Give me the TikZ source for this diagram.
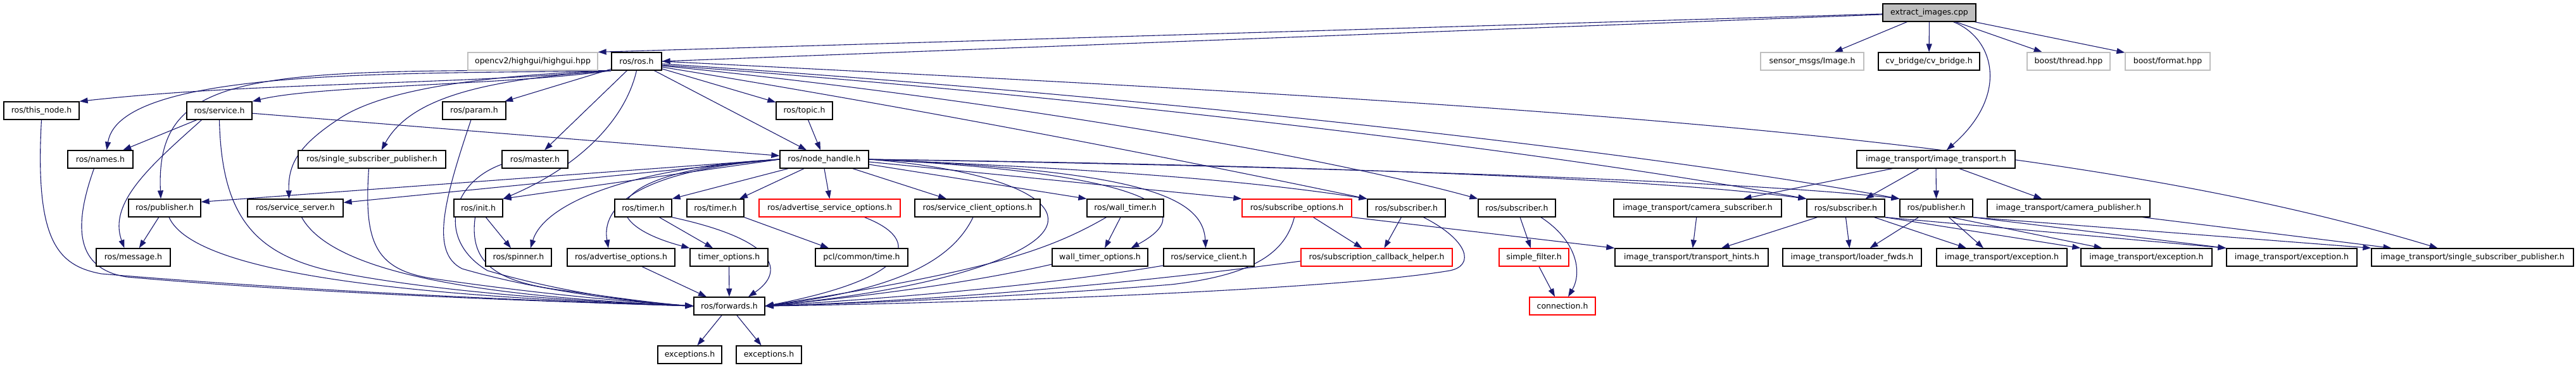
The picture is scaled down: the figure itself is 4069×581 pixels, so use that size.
\documentclass[tikz,border=0pt]{standalone}
\usepackage{fontspec}
\setmainfont{DejaVu Sans}
\usetikzlibrary{arrows.meta}
\definecolor{edgec}{HTML}{191970}
\definecolor{lgrey}{HTML}{BFBFBF}
\pgfdeclarelayer{bg}
\pgfsetlayers{bg,main}
\begin{document}
\begin{tikzpicture}[x=1pt,y=-1pt,
 box/.style={draw=black,line width=1.3pt,fill=white,minimum height=28pt,inner sep=0pt,font=\fontsize{12.5}{15}\selectfont,text=black},
 lightbox/.style={box,draw=lgrey},
 redbox/.style={box,draw=red},
 rootbox/.style={box,fill=lgrey},
 e/.style={draw=edgec,line width=1.1pt,-{Triangle[length=13pt,width=9pt]}},
]
\useasboundingbox (0,0) rectangle (4069,581);
% row 0
\node[rootbox,minimum width=147pt] (root) at (3047.5,20) {extract\_images.cpp};
% row 1
\node[lightbox,minimum width=205pt] (opencv) at (841.5,97) {opencv2/highgui/highgui.hpp};
\node[box,minimum width=79pt] (ros) at (1005.5,97) {ros/ros.h};
\node[lightbox,minimum width=163pt] (sensor) at (2862.5,97) {sensor\_msgs/Image.h};
\node[box,minimum width=160pt] (cvb) at (3047,97) {cv\_bridge/cv\_bridge.h};
\node[lightbox,minimum width=131pt] (bthread) at (3267.5,97) {boost/thread.hpp};
\node[lightbox,minimum width=134pt] (bformat) at (3424,97) {boost/format.hpp};
% row 2
\node[box,minimum width=119pt] (thisnode) at (65.5,175) {ros/this\_node.h};
\node[box,minimum width=103pt] (service) at (346.5,175) {ros/service.h};
\node[box,minimum width=100pt] (param) at (749,175) {ros/param.h};
\node[box,minimum width=89pt] (topic) at (1270.5,175) {ros/topic.h};
% row 3
\node[box,minimum width=103pt] (names) at (158.5,252) {ros/names.h};
\node[box,minimum width=233pt] (sspubR) at (587.5,252) {ros/single\_subscriber\_publisher.h};
\node[box,minimum width=104pt] (master) at (845,252) {ros/master.h};
\node[box,minimum width=140pt] (nh) at (1302,252) {ros/node\_handle.h};
\node[box,minimum width=250pt] (itr) at (3058,252) {image\_transport/image\_transport.h};
% row 4
\node[box,minimum width=114pt] (pubL) at (260,329) {ros/publisher.h};
\node[box,minimum width=151pt] (ssrv) at (466.5,329) {ros/service\_server.h};
\node[box,minimum width=77pt] (init) at (755.5,329) {ros/init.h};
\node[box,minimum width=90pt] (timerA) at (1016,329) {ros/timer.h};
\node[box,minimum width=90pt] (timerB) at (1130,329) {ros/timer.h};
\node[redbox,minimum width=223pt] (aso) at (1310.5,329) {ros/advertise\_service\_options.h};
\node[box,minimum width=198pt] (sco) at (1544,329) {ros/service\_client\_options.h};
\node[box,minimum width=121pt] (wt) at (1777.5,329) {ros/wall\_timer.h};
\node[redbox,minimum width=173pt] (subo) at (2048.5,329) {ros/subscribe\_options.h};
\node[box,minimum width=123pt] (subA) at (2221.5,329) {ros/subscriber.h};
\node[box,minimum width=122pt] (subB) at (2396,329) {ros/subscriber.h};
\node[box,minimum width=265pt] (camsub) at (2681.5,329) {image\_transport/camera\_subscriber.h};
\node[box,minimum width=123pt] (subC) at (2915.5,329) {ros/subscriber.h};
\node[box,minimum width=115pt] (pubR) at (3058.5,329) {ros/publisher.h};
\node[box,minimum width=257pt] (campub) at (3267.5,329) {image\_transport/camera\_publisher.h};
% row 5
\node[box,minimum width=117pt] (msg) at (210.5,407) {ros/message.h};
\node[box,minimum width=104pt] (spin) at (819,407) {ros/spinner.h};
\node[box,minimum width=170pt] (advo) at (981,407) {ros/advertise\_options.h};
\node[box,minimum width=123pt] (tmo) at (1151.5,407) {timer\_options.h};
\node[box,minimum width=146pt] (pcl) at (1361,407) {pcl/common/time.h};
\node[box,minimum width=151pt] (wto) at (1737.5,407) {wall\_timer\_options.h};
\node[box,minimum width=143pt] (sc) at (1909.5,407) {ros/service\_client.h};
\node[redbox,minimum width=239pt] (sch) at (2174.5,407) {ros/subscription\_callback\_helper.h};
\node[redbox,minimum width=110pt] (sf) at (2423,407) {simple\_filter.h};
\node[box,minimum width=242pt] (th) at (2672,407) {image\_transport/transport\_hints.h};
\node[box,minimum width=219pt] (lf) at (2925.5,407) {image\_transport/loader\_fwds.h};
\node[box,minimum width=206pt] (ex1) at (3162,407) {image\_transport/exception.h};
\node[box,minimum width=207pt] (ex2) at (3390.5,407) {image\_transport/exception.h};
\node[box,minimum width=206pt] (ex3) at (3620,407) {image\_transport/exception.h};
\node[box,minimum width=319pt] (sspub) at (3905.5,407) {image\_transport/single\_subscriber\_publisher.h};
% row 6
\node[box,minimum width=112pt] (fwd) at (1152,484) {ros/forwards.h};
\node[redbox,minimum width=104pt] (conn) at (2468,484) {connection.h};
% row 7
\node[box,minimum width=101pt] (exa) at (1089.5,561) {exceptions.h};
\node[box,minimum width=103pt] (exb) at (1214.5,561) {exceptions.h};

\begin{pgfonlayer}{bg}
% root
\draw[e] ([yshift=-2pt]root.west) -- (opencv.north east);
\draw[e] ([yshift=-3pt]root.west) -- (ros.east);
\draw[e] (root) -- (sensor);
\draw[e] (root) -- (cvb);
\draw[e] (root) -- (bthread);
\draw[e] (root) -- (bformat);
\draw[e] ([xshift=38pt]root.south) .. controls (3150,60) and (3175,150) .. (itr);
% ros
\draw[e] (ros.south west) .. controls (700,135) and (400,130) .. (thisnode.north east);
\draw[e] (ros.south west) .. controls (800,135) and (500,135) .. (service.north east);
\draw[e] (ros.south west) .. controls (650,118) and (190,105) .. ([xshift=10pt]names.north);
\draw[e] (ros.south west) .. controls (400,110) and (245,110) .. ([xshift=-6pt]pubL.north);
\draw[e] (ros.south west) .. controls (800,118) and (620,135) .. (540,185) .. controls (470,230) and (455,260) .. ([xshift=-10pt]ssrv.north);
\draw[e] (ros.south west) .. controls (780,125) and (650,150) .. ([xshift=15pt]sspubR.north);
\draw[e] (ros) -- (param);
\draw[e] (ros) -- (master);
\draw[e] (ros.south) .. controls (985,200) and (900,270) .. (init.north east);
\draw[e] (ros) -- (topic);
\draw[e] (ros) -- (nh);
\draw[e] (ros.east) .. controls (2400,165) and (3250,210) .. ([xshift=-55pt]sspub.north);
\draw[e] ([yshift=-4pt]ros.east) .. controls (1800,150) and (2600,240) .. (pubR.north west);
\draw[e] ([yshift=-6pt]ros.east) .. controls (1700,150) and (2450,240) .. (subC.north west);
\draw[e] ([yshift=-7pt]ros.east) .. controls (1600,160) and (2100,250) .. (subB.north west);
\draw[e] ([yshift=-9pt]ros.east) .. controls (1500,180) and (1900,260) .. (subA.north west);
% topic, service
\draw[e] (topic) -- (nh);
\draw[e] (service) -- (names);
\draw[e] ([xshift=-28pt]service.south) .. controls (240,260) and (170,320) .. ([xshift=-14pt]msg.north);
\draw[e] (service.south) .. controls (350,340) and (400,400) .. (520,428) .. controls (700,465) and (950,478) .. (fwd.west);
\draw[e] (service) -- (nh);
% into forwards from the left
\draw[e] (thisnode.south) .. controls (55,380) and (90,420) .. (160,433) .. controls (500,462) and (900,478) .. (fwd.west);
\draw[e] ([xshift=-10pt]names.south) .. controls (115,360) and (120,425) .. (200,438) .. controls (500,465) and (900,478) .. (fwd.west);
\draw[e] (pubL) -- (msg);
\draw[e] ([xshift=7pt]pubL.south) .. controls (310,440) and (700,470) .. (fwd.west);
\draw[e] ([xshift=-5pt]sspubR.south) .. controls (575,380) and (590,425) .. (680,440) .. controls (850,465) and (1000,478) .. (fwd.west);
\draw[e] ([xshift=-5pt]param.south) .. controls (700,320) and (680,400) .. (730,425) .. controls (850,460) and (1000,478) .. (fwd.west);
\draw[e] ([yshift=-8pt]master.west) .. controls (710,290) and (690,380) .. (770,428) .. controls (880,460) and (1000,478) .. (fwd.west);
\draw[e] ([xshift=10pt]ssrv.south) .. controls (530,440) and (800,470) .. (fwd.west);
\draw[e] (init) -- (spin);
\draw[e] ([xshift=-5pt]init.south) .. controls (740,420) and (790,445) .. (880,458) .. controls (980,472) and (1040,480) .. (fwd.west);
% node_handle
\draw[e] (nh.west) -- ([yshift=-5pt]pubL.north east);
\draw[e] (nh.west) -- ([yshift=-6pt]ssrv.north east);
\draw[e] (nh.west) -- (init.north east);
\draw[e] (nh.west) .. controls (1000,265) and (860,320) .. ([xshift=19pt]spin.north);
\draw[e] (nh.west) .. controls (1000,270) and (950,330) .. ([xshift=-20pt]advo.north);
\draw[e] (nh.west) .. controls (950,270) and (930,350) .. (tmo.north west);
\draw[e] ([xshift=-57pt]nh.south) -- (timerA.north east);
\draw[e] ([xshift=-32pt]nh.south) -- ([xshift=38pt]timerB.north);
\draw[e] (nh.south) -- (aso.north);
\draw[e] ([xshift=45pt]nh.south) -- ([xshift=-49pt]sco.north);
\draw[e] ([yshift=-8pt]nh.east) -- (wt.north west);
\draw[e] ([yshift=-4pt]nh.east) -- (subo.north west);
\draw[e] (nh.east) .. controls (1600,270) and (1720,330) .. (1620,390) .. controls (1520,450) and (1300,475) .. (fwd.east);
\draw[e] (nh.east) .. controls (1750,270) and (1920,320) .. ([xshift=49pt]wto.north);
\draw[e] (nh.east) .. controls (1800,270) and (1900,310) .. ([xshift=-5pt]sc.north);
\draw[e] (nh.east) .. controls (1800,270) and (2000,290) .. (subA.north west);
\draw[e] (nh.east) .. controls (2000,260) and (2600,280) .. (subC.north west);
\draw[e] (nh.east) .. controls (2200,265) and (2800,290) .. (pubR.north west);
% middle
\draw[e] (timerA) -- (tmo);
\draw[e] (timerA.south east) .. controls (1230,380) and (1240,430) .. ([xshift=30pt]fwd.north);
\draw[e] (timerB.south east) -- ([xshift=-52pt]pcl.north);
\draw[e] ([xshift=33pt]advo.south) -- ([xshift=-36pt]fwd.north);
\draw[e] (tmo) -- (fwd);
\draw[e] ([xshift=55pt]aso.south) .. controls (1460,380) and (1440,440) .. (fwd.east);
\draw[e] ([xshift=-7pt]sco.south) .. controls (1500,420) and (1400,460) .. (fwd.east);
\draw[e] (wt) -- (wto);
\draw[e] ([xshift=-30pt]wt.south) .. controls (1650,400) and (1550,430) .. (fwd.east);
\draw[e] ([yshift=-11pt]wto.west) .. controls (1500,455) and (1300,475) .. (fwd.east);
\draw[e] ([yshift=-13pt]sc.west) .. controls (1600,460) and (1300,478) .. (fwd.east);
\draw[e] ([xshift=-4pt]subo.south) .. controls (2030,400) and (1980,435) .. (1850,450) .. controls (1600,470) and (1350,480) .. (fwd.east);
\draw[e] ([xshift=26pt]subo.south) -- ([xshift=-23pt]sch.north);
\draw[e] (subo.south east) -- (th.north west);
\draw[e] (subA) -- ([xshift=12pt]sch.north);
\draw[e] ([xshift=27pt]subA.south) .. controls (2320,380) and (2330,420) .. (2290,428) .. controls (2100,460) and (1500,480) .. (fwd.east);
\draw[e] ([yshift=-6pt]sch.west) .. controls (1700,460) and (1400,478) .. (fwd.east);
\draw[e] (subB) -- (sf);
\draw[e] ([xshift=38pt]subB.south) .. controls (2490,380) and (2500,430) .. ([xshift=9pt]conn.north);
\draw[e] ([xshift=8pt]sf.south) -- ([xshift=-12pt]conn.north);
% image_transport
\draw[e] (camsub) -- (th);
\draw[e] ([xshift=-69pt]itr.south) -- ([xshift=72pt]camsub.north);
\draw[e] ([xshift=-27pt]itr.south) -- ([xshift=31pt]subC.north);
\draw[e] (itr.south) -- (pubR.north);
\draw[e] ([xshift=37pt]itr.south) -- ([xshift=-42pt]campub.north);
\draw[e] ([xshift=-45pt]subC.south) -- ([xshift=47pt]th.north);
\draw[e] (subC.south) -- ([xshift=-4pt]lf.north);
\draw[e] ([xshift=45pt]subC.south) -- ([xshift=-56pt]ex1.north);
\draw[e] (subC.south east) -- (ex2.north west);
\draw[e] (subC.south east) -- (ex3.north west);
\draw[e] ([xshift=-28pt]pubR.south) -- ([xshift=28pt]lf.north);
\draw[e] ([xshift=20pt]pubR.south) -- ([xshift=-29pt]ex1.north);
\draw[e] ([xshift=24pt]pubR.south) -- ([xshift=-70pt]ex2.north);
\draw[e] (pubR.south east) -- (ex3.north west);
\draw[e] (pubR.south east) -- (sspub.north west);
\draw[e] ([xshift=117pt]campub.south) -- ([xshift=-128pt]sspub.north);
% forwards
\draw[e] (fwd) -- (exa);
\draw[e] (fwd) -- (exb);
\end{pgfonlayer}
\end{tikzpicture}
\end{document}
